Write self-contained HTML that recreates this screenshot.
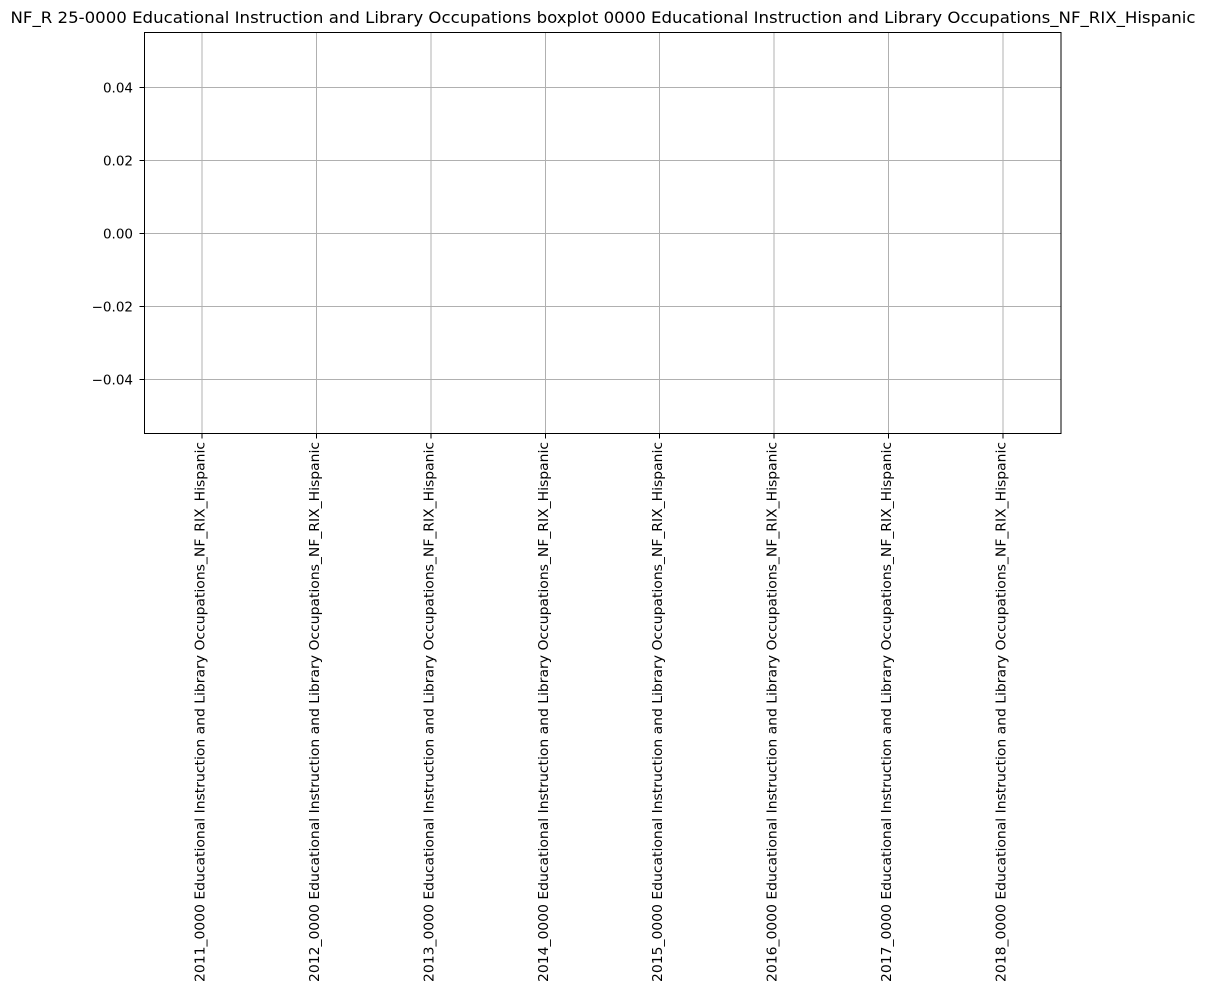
<!DOCTYPE html>
<html><head><meta charset="utf-8"><style>
html,body{margin:0;padding:0;background:#fff;}
svg text{font-family:"DejaVu Sans","Liberation Sans",sans-serif;fill:#000;}
</style></head><body>
<svg width="1205" height="991" viewBox="0 0 1205 991" xmlns="http://www.w3.org/2000/svg">
<rect width="1205" height="991" fill="#fff"/>
<text x="603" y="23" font-size="16.2" text-anchor="middle" textLength="1185" lengthAdjust="spacingAndGlyphs">NF_R 25-0000 Educational Instruction and Library Occupations boxplot 0000 Educational Instruction and Library Occupations_NF_RIX_Hispanic</text>
<g stroke="#b0b0b0" stroke-width="1">
<line x1="202" y1="33" x2="202" y2="433.5"/>
<line x1="316.5" y1="33" x2="316.5" y2="433.5"/>
<line x1="431" y1="33" x2="431" y2="433.5"/>
<line x1="545.5" y1="33" x2="545.5" y2="433.5"/>
<line x1="659.5" y1="33" x2="659.5" y2="433.5"/>
<line x1="774" y1="33" x2="774" y2="433.5"/>
<line x1="888.5" y1="33" x2="888.5" y2="433.5"/>
<line x1="1003" y1="33" x2="1003" y2="433.5"/>
<line x1="144.5" y1="87.5" x2="1061" y2="87.5"/>
<line x1="144.5" y1="160.5" x2="1061" y2="160.5"/>
<line x1="144.5" y1="233.5" x2="1061" y2="233.5"/>
<line x1="144.5" y1="306.5" x2="1061" y2="306.5"/>
<line x1="144.5" y1="379.5" x2="1061" y2="379.5"/>
</g>
<rect x="144.5" y="32.5" width="916.5" height="401" fill="none" stroke="#000" stroke-width="1"/>
<g stroke="#000" stroke-width="1">
<line x1="139.5" y1="87.5" x2="144.5" y2="87.5"/>
<line x1="139.5" y1="160.5" x2="144.5" y2="160.5"/>
<line x1="139.5" y1="233.5" x2="144.5" y2="233.5"/>
<line x1="139.5" y1="306.5" x2="144.5" y2="306.5"/>
<line x1="139.5" y1="379.5" x2="144.5" y2="379.5"/>
<line x1="202" y1="433.5" x2="202" y2="438.5"/>
<line x1="316.5" y1="433.5" x2="316.5" y2="438.5"/>
<line x1="431" y1="433.5" x2="431" y2="438.5"/>
<line x1="545.5" y1="433.5" x2="545.5" y2="438.5"/>
<line x1="659.5" y1="433.5" x2="659.5" y2="438.5"/>
<line x1="774" y1="433.5" x2="774" y2="438.5"/>
<line x1="888.5" y1="433.5" x2="888.5" y2="438.5"/>
<line x1="1003" y1="433.5" x2="1003" y2="438.5"/>
</g>
<g font-size="13.5" text-anchor="end">
<text x="133" y="92.5">0.04</text>
<text x="133" y="165.5">0.02</text>
<text x="133" y="238.5">0.00</text>
<text x="133" y="311.5">−0.02</text>
<text x="133" y="384.5">−0.04</text>
</g>
<g font-size="13.5" text-anchor="end">
<text transform="translate(204.5,442) rotate(-90)" textLength="540" lengthAdjust="spacingAndGlyphs">2011_0000 Educational Instruction and Library Occupations_NF_RIX_Hispanic</text>
<text transform="translate(319,442) rotate(-90)" textLength="540" lengthAdjust="spacingAndGlyphs">2012_0000 Educational Instruction and Library Occupations_NF_RIX_Hispanic</text>
<text transform="translate(433.5,442) rotate(-90)" textLength="540" lengthAdjust="spacingAndGlyphs">2013_0000 Educational Instruction and Library Occupations_NF_RIX_Hispanic</text>
<text transform="translate(548,442) rotate(-90)" textLength="540" lengthAdjust="spacingAndGlyphs">2014_0000 Educational Instruction and Library Occupations_NF_RIX_Hispanic</text>
<text transform="translate(662,442) rotate(-90)" textLength="540" lengthAdjust="spacingAndGlyphs">2015_0000 Educational Instruction and Library Occupations_NF_RIX_Hispanic</text>
<text transform="translate(776.5,442) rotate(-90)" textLength="540" lengthAdjust="spacingAndGlyphs">2016_0000 Educational Instruction and Library Occupations_NF_RIX_Hispanic</text>
<text transform="translate(891,442) rotate(-90)" textLength="540" lengthAdjust="spacingAndGlyphs">2017_0000 Educational Instruction and Library Occupations_NF_RIX_Hispanic</text>
<text transform="translate(1005.5,442) rotate(-90)" textLength="540" lengthAdjust="spacingAndGlyphs">2018_0000 Educational Instruction and Library Occupations_NF_RIX_Hispanic</text>
</g>
</svg>
</body></html>
